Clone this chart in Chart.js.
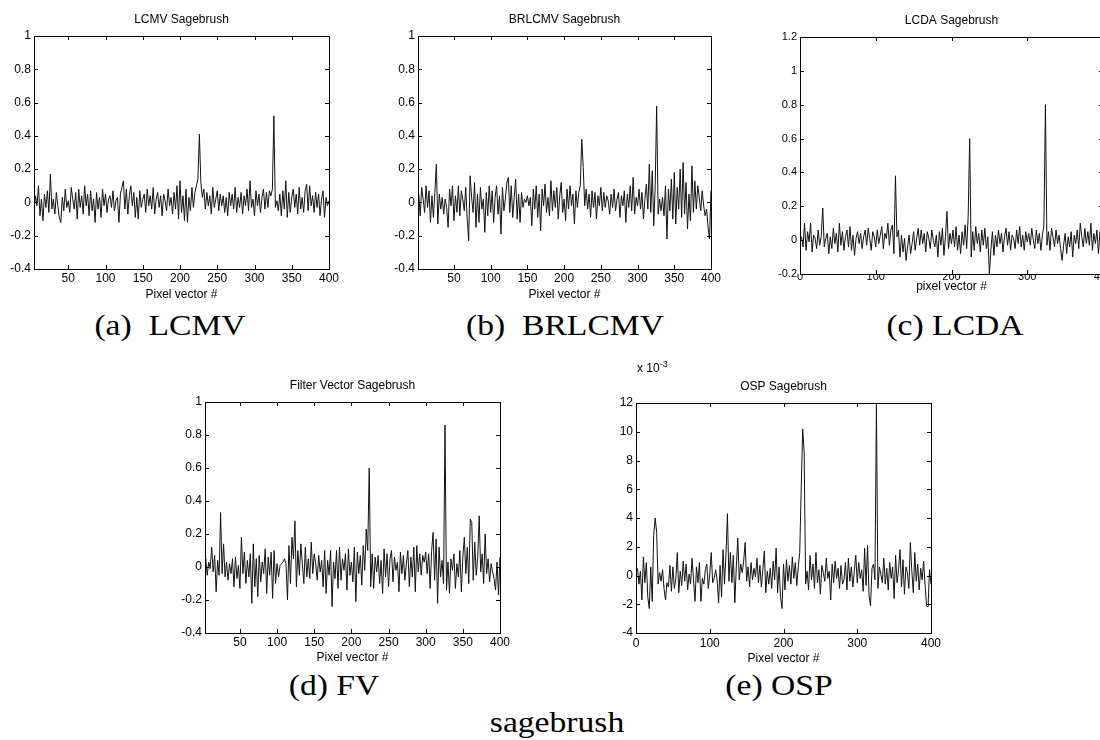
<!DOCTYPE html>
<html>
<head>
<meta charset="utf-8">
<script src="https://cdn.jsdelivr.net/npm/chart.js@4"></script>
<style>
  body { margin: 0; width: 1100px; height: 740px; overflow: hidden; background: #fff; position: relative; }
  canvas { position: absolute; }
  .cap { position: absolute; font-family: "Liberation Serif", serif; font-size: 30px; color: #000; white-space: pre; transform: translate(-50%, -50%) scaleX(1.12); }
  .mult { position: absolute; font-family: "Liberation Sans", sans-serif; font-size: 12px; color: #000; }
  .mult sup { font-size: 9px; }
</style>
</head>
<body>
<canvas id="cA"></canvas>
<canvas id="cB"></canvas>
<canvas id="cC"></canvas>
<canvas id="cD"></canvas>
<canvas id="cE"></canvas>

<div class="cap" style="left:170px;top:325px">(a)  LCMV</div>
<div class="cap" style="left:565px;top:325px">(b)  BRLCMV</div>
<div class="cap" style="left:955px;top:325px">(c) LCDA</div>
<div class="cap" style="left:334px;top:685px">(d) FV</div>
<div class="cap" style="left:779px;top:685px">(e) OSP</div>
<div class="cap" style="left:557px;top:722px">sagebrush</div>
<div class="mult" style="left:637px;top:359px">x 10<sup>-3</sup></div>

<script>
// filter outputs, one value per second pixel vector (2, 4, ... 400)
const lcmv = [
  0.03, -0.05, 0.04, -0.02, 0.1, -0.08, 0.02, -0.11, 0.05, -0.03,
  0.07, -0.06, 0.17, -0.04, 0.02, -0.07, 0.06, -0.02, -0.09, -0.12,
  0.03, -0.05, 0.08, -0.03, 0.01, -0.06, 0.09, 0.02, -0.04, 0.06,
  -0.1, 0.08, -0.03, 0.04, -0.07, 0.1, -0.02, 0.05, -0.08, 0.07,
  -0.05, 0.02, -0.12, 0.06, -0.04, 0.03, -0.09, 0.08, -0.02, 0.05,
  -0.06, 0.02, 0.04, -0.03, 0.07, -0.05, 0.01, 0.03, -0.12, 0.05,
  0.09, 0.13, -0.04, 0.08, -0.07, 0.04, 0.1, -0.02, 0.06, -0.09,
  0.03, -0.1, 0.07, -0.03, 0.02, 0.05, -0.06, 0.08, -0.02, 0.04,
  -0.04, 0.09, -0.07, 0.02, 0.06, -0.03, 0.04, -0.08, 0.05, 0.01,
  -0.05, 0.08, -0.02, 0.03, -0.07, 0.06, -0.04, 0.1, -0.1, 0.13,
  -0.06, 0.04, -0.11, 0.08, -0.12, 0.03, -0.05, 0.09, -0.03, 0.06,
  0.1, 0.14, 0.41, 0.12, 0.03, 0.08, -0.04, 0.06, -0.02, 0.04,
  -0.07, 0.09, -0.03, 0.02, 0.07, -0.05, 0.05, -0.02, 0.04, -0.06,
  0.03, -0.08, 0.06, -0.02, 0.05, -0.04, 0.09, -0.06, 0.03, -0.03,
  0.06, -0.07, 0.04, -0.02, 0.08, -0.05, 0.13, -0.03, 0.02, -0.08,
  0.07, -0.02, 0.05, -0.06, 0.03, 0.08, -0.04, 0.06, -0.03, 0.07,
  0.04, 0.08, 0.52, -0.03, 0.01, -0.05, 0.05, -0.08, 0.07, -0.04,
  0.13, -0.09, 0.06, -0.06, 0.03, 0.08, -0.03, 0.05, -0.07, 0.09,
  -0.04, 0.03, -0.06, 0.07, 0.11, -0.05, 0.1, -0.02, 0.04, -0.06,
  0.06, -0.03, 0.05, -0.08, 0.02, 0.07, -0.09, 0.03, -0.02, 0.01
];
const brlcmv = [
  0.05, -0.08, 0.09, 0.02, -0.06, 0.1, -0.03, 0.07, -0.12, 0.04,
  -0.09, 0.06, 0.23, -0.13, 0.05, -0.04, 0.03, -0.07, 0.02, -0.03,
  -0.15, 0.08, -0.02, 0.1, -0.11, 0.04, -0.06, 0.1, -0.08, 0.07,
  0.02, -0.05, 0.09, -0.1, -0.23, 0.16, 0.03, -0.06, 0.12, -0.15,
  0.05, -0.12, 0.09, -0.04, 0.02, -0.18, 0.06, -0.08, 0.1, -0.06,
  0.07, -0.12, 0.03, 0.1, -0.07, 0.04, -0.19, 0.09, -0.05, 0.02,
  0.12, 0.15, -0.06, 0.1, -0.09, 0.03, 0.14, -0.1, 0.05, -0.12,
  0.06, -0.03, 0.02, 0.0, 0.04, -0.02, 0.03, -0.14, 0.08, -0.04,
  0.1, -0.09, 0.05, -0.17, 0.08, -0.02, 0.11, -0.06, 0.03, -0.08,
  0.13, -0.05, 0.07, -0.03, 0.09, -0.1, 0.04, 0.12, -0.06, 0.02,
  -0.11, 0.08, -0.04, 0.1, -0.02, 0.05, -0.13, 0.07, -0.03, 0.06,
  0.1, 0.38, 0.21, -0.02, 0.08, -0.04, 0.05, -0.09, 0.07, -0.03,
  0.06, -0.1, 0.04, -0.02, 0.09, -0.05, 0.06, -0.03, 0.04, 0.01,
  -0.07, 0.05, -0.03, 0.08, -0.05, 0.02, 0.06, -0.09, 0.04, -0.02,
  0.07, -0.12, 0.05, -0.03, 0.1, -0.05, 0.15, -0.07, 0.03, -0.02,
  0.08, -0.04, 0.06, -0.1, 0.02, 0.11, -0.04, 0.23, -0.06, 0.19,
  -0.14, 0.1, 0.58, -0.07, 0.02, -0.05, 0.03, -0.08, 0.1, -0.22,
  0.08, -0.05, 0.14, -0.1, 0.18, -0.13, 0.09, -0.04, 0.2, -0.09,
  0.24, -0.07, 0.12, -0.16, 0.05, -0.11, 0.22, -0.06, 0.13, -0.04,
  0.1, 0.03, -0.05, 0.07, -0.02, -0.08, -0.04, -0.15, -0.22, 0.07
];
const lcda = [
  0.02, -0.04, 0.1, -0.06, 0.05, -0.01, 0.1, -0.07, 0.03, 0.01,
  -0.05, 0.06, -0.03, 0.02, 0.19, -0.04, 0.01, 0.04, -0.08, 0.02,
  -0.05, 0.07, -0.02, 0.04, -0.07, 0.1, -0.03, 0.05, -0.06, 0.02,
  0.06, -0.04, 0.08, -0.06, 0.03, -0.09, 0.01, 0.05, -0.02, 0.04,
  -0.05, 0.02, 0.06, -0.03, 0.07, 0.01, -0.06, 0.05, 0.02, -0.04,
  0.06, -0.02, 0.03, 0.08, -0.05, 0.04, 0.01, 0.1, -0.03, 0.06,
  0.09, -0.08, 0.38, 0.02, 0.06, -0.1, 0.03, -0.07, 0.01, -0.12,
  -0.04, 0.03, -0.08, -0.02, 0.05, -0.06, 0.01, 0.07, -0.03, 0.06,
  -0.02, 0.04, -0.07, 0.05, 0.01, -0.05, 0.06, 0.0, -0.04, 0.03,
  -0.1, 0.05, -0.03, 0.07, -0.09, 0.02, 0.17, -0.05, 0.04, -0.02,
  0.06, -0.04, 0.08, -0.06, 0.03, -0.08, 0.05, -0.03, 0.09, -0.05,
  0.14, 0.6, -0.1, 0.05, -0.06, 0.08, -0.02, 0.04, -0.07, 0.06,
  -0.03, 0.07, -0.05, 0.02, -0.2, -0.06, 0.05, -0.09, 0.03, -0.04,
  0.06, -0.02, 0.04, -0.07, 0.02, 0.07, -0.03, 0.05, -0.06, 0.03,
  0.01, -0.05, 0.06, -0.02, 0.08, -0.04, 0.03, -0.06, 0.05, -0.01,
  0.04, -0.03, 0.07, 0.0, -0.05, 0.06, -0.02, 0.04, -0.06, 0.03,
  0.09, 0.8, -0.03, 0.05, -0.06, 0.07, 0.02, -0.04, 0.06, -0.02,
  0.03, -0.05, -0.12, -0.03, 0.04, -0.08, 0.02, -0.04, 0.05, -0.1,
  0.03, -0.02, 0.06, -0.05, 0.1, 0.02, -0.04, 0.07, -0.02, 0.05,
  -0.03, 0.1, -0.06, 0.04, -0.02, 0.06, -0.08, 0.05, -0.04, 0.02
];
const fv = [
  -0.02, 0.05, -0.05, 0.03, -0.01, 0.12, -0.03, 0.07, -0.15, 0.04,
  -0.05, 0.33, -0.04, 0.14, -0.06, 0.03, -0.08, 0.02, -0.04, 0.05,
  -0.12, 0.06, -0.07, 0.01, -0.13, 0.18, -0.04, 0.09, -0.1, 0.04,
  -0.06, 0.08, -0.22, 0.14, -0.12, 0.05, -0.18, 0.07, -0.09, 0.03,
  -0.04, 0.11, -0.16, 0.06, -0.05, 0.09, -0.19, 0.1, -0.1, 0.02,
  -0.06, 0.01, 0.02, 0.03, 0.05, 0.02, -0.2, 0.13, -0.1, 0.18,
  0.05, 0.28, -0.12, 0.1, -0.05, 0.14, 0.02, -0.1, 0.12, -0.06,
  0.05, -0.07, 0.15, -0.04, 0.08, 0.02, -0.08, 0.07, -0.03, 0.04,
  -0.12, 0.1, -0.16, 0.04, -0.05, 0.1, -0.24, 0.03, -0.07, 0.1,
  -0.13, 0.12, -0.08, 0.05, -0.02, 0.08, -0.14, 0.11, -0.05, 0.03,
  -0.09, 0.12, -0.21, 0.09, -0.04, 0.07, -0.11, 0.13, -0.02, 0.23,
  0.1, 0.6, -0.12, 0.08, -0.13, 0.06, -0.03, 0.07, -0.1, 0.04,
  -0.16, 0.11, -0.06, 0.08, -0.12, 0.05, 0.1, -0.09, 0.06, -0.02,
  0.03, -0.15, 0.09, -0.04, 0.07, -0.08, 0.02, 0.1, -0.12, 0.06,
  -0.06, 0.12, -0.15, 0.13, -0.03, 0.08, -0.05, 0.07, 0.03, 0.09,
  -0.04, 0.08, -0.13, 0.1, 0.21, -0.08, 0.17, -0.22, 0.12, -0.06,
  0.04, -0.1, 0.86, -0.14, 0.03, -0.16, 0.05, -0.02, 0.08, -0.13,
  0.02, -0.06, 0.1, -0.15, 0.06, 0.18, -0.04, 0.12, -0.1, 0.29,
  0.27, -0.08, 0.15, -0.05, 0.06, 0.31, -0.03, 0.08, -0.1, 0.2,
  -0.04, 0.05, -0.09, 0.02, -0.03, -0.07, -0.14, 0.03, -0.17, 0.06
];
// OSP in units of 1e-3
const osp = [
  0.5, -0.6, 0.3, -1.7, 1.3, -0.5, 0.9, -1.5, -2.3, 0.6,
  -1.8, 2.8, 4.0, 3.0, -0.6, 0.2, -0.4, 0.4, -0.9, -1.7,
  -0.5, -0.8, 0.7, -1.1, 0.6, -0.9, -0.2, 1.6, -1.2, 0.3,
  -0.7, 1.0, -0.4, 0.8, -1.0, 0.1, -0.6, 1.2, -0.3, -1.8,
  0.6, -0.5, 0.9, -1.8, -0.2, -0.6, 0.4, 0.8, -0.9, 0.1,
  1.6, -0.5, -0.2, 0.4, -0.3, -1.9, 0.7, -1.5, 1.8, -0.6,
  1.5, 4.3, -0.4, 1.6, -0.5, 1.4, -1.9, 0.6, 2.6, -0.3,
  0.8, 0.2, 1.0, 2.3, -0.4, 0.6, -0.8, 0.9, -0.3, 0.5,
  -0.1, 1.2, -0.5, 0.7, -0.8, 0.4, 1.7, -1.2, 0.3, -0.6,
  0.5, -0.9, 1.0, -0.3, 1.9, -1.2, 0.6, -1.5, -2.3, 0.8,
  -1.0, 1.1, -0.4, 0.7, -0.6, 1.3, -0.2, 0.9, -0.7, 0.6,
  1.6, 6.0, 10.2, 8.6, -0.6, 0.3, -1.0, 1.4, -0.3, 0.8,
  -0.9, 1.6, -0.5, 0.4, -1.3, 0.7, 0.2, -0.4, 1.2, -0.2,
  0.3, -1.7, 0.8, -0.5, 1.0, -0.2, 0.5, -0.9, 0.7, -0.6,
  -0.3, 0.9, -1.0, 1.2, -0.4, 0.6, -0.8, 0.3, 1.4, -0.5,
  0.9, -0.2, 0.4, -1.1, 1.9, -0.7, 2.1, -1.4, -2.1, 0.5,
  0.8, -0.3, 11.9, -0.9, 0.6, 0.1, -0.5, 1.2, -0.6, 0.5,
  -1.0, 0.9, -0.2, 0.6, -1.6, 1.4, -0.5, 0.4, 1.8, -0.8,
  1.1, -1.3, 0.6, 0.2, -0.9, 2.3, 0.3, -1.2, 1.6, -0.4,
  0.8, -1.0, 0.5, -0.3, 1.0, -0.7, -2.1, -2.2, 0.4, -0.6
];

// tick labels
const xTicks50 = [50, 100, 150, 200, 250, 300, 350, 400];
const xTicks100 = [0, 100, 200, 300, 400];
const yTicksA = [-0.4, -0.2, 0, 0.2, 0.4, 0.6, 0.8, 1];
const yTicksC = [-0.2, 0, 0.2, 0.4, 0.6, 0.8, 1, 1.2];
const yTicksE = [-4, -2, 0, 2, 4, 6, 8, 10, 12];

const pixelNo = lcmv.map((_, i) => 2 * i + 2); // sample positions

const yW = 44, titleH = 30, padR = 16;
const sans = 'Liberation Sans';

// box frame + inward ticks like the matlab axes
const framePlugin = {
  id: 'frame',
  afterDatasetsDraw(chart) {
    const { ctx, chartArea: a, scales: { x, y } } = chart;
    ctx.save();
    ctx.strokeStyle = '#000';
    ctx.lineWidth = 1;
    ctx.strokeRect(Math.round(a.left) + 0.5, Math.round(a.top) + 0.5, Math.round(a.width), Math.round(a.height));
    ctx.beginPath();
    x.ticks.forEach(t => {
      const px = Math.round(x.getPixelForValue(t.value)) + 0.5;
      ctx.moveTo(px, a.bottom); ctx.lineTo(px, a.bottom - 4);
      ctx.moveTo(px, a.top); ctx.lineTo(px, a.top + 4);
    });
    y.ticks.forEach(t => {
      const py = Math.round(y.getPixelForValue(t.value)) + 0.5;
      ctx.moveTo(a.left, py); ctx.lineTo(a.left + 4, py);
      ctx.moveTo(a.right, py); ctx.lineTo(a.right - 4, py);
    });
    ctx.stroke();
    ctx.restore();
  }
};

function makePanel(p) {
  const cv = document.getElementById(p.id);
  cv.width = (p.right - p.left) + yW + padR;
  cv.height = titleH + (p.bottom - p.top) + p.xH;
  cv.style.left = (p.left - yW) + 'px';
  cv.style.top = (p.top - titleH) + 'px';

  new Chart(cv, {
    type: 'line',
    data: {
      datasets: [{
        data: p.values.map((v, i) => ({ x: pixelNo[i], y: v })),
        borderColor: '#111',
        borderWidth: 1,
        pointRadius: 0,
        tension: 0
      }]
    },
    options: {
      responsive: false,
      animation: false,
      devicePixelRatio: 1,
      layout: { padding: { left: 0, right: padR, top: 0, bottom: 0 } },
      plugins: {
        legend: { display: false },
        tooltip: { enabled: false },
        title: {
          display: true,
          text: p.title,
          fullSize: false,
          color: '#000',
          font: { family: sans, size: 12, weight: 'normal' },
          padding: { top: 6.8, bottom: 8.8 }
        }
      },
      scales: {
        x: {
          type: 'linear',
          min: p.xMin,
          max: p.xMax,
          grid: { display: false, drawTicks: false },
          border: { display: false },
          afterBuildTicks: s => { s.ticks = p.xTicks.map(v => ({ value: v })); },
          afterFit: s => { s.height = p.xH; },
          ticks: { color: '#000', font: { family: sans, size: p.tickSize }, padding: p.xPad, maxRotation: 0, autoSkip: false },
          title: {
            display: true,
            text: p.xTitle,
            color: '#000',
            font: { family: sans, size: 12 },
            padding: { top: 0, bottom: p.xtPad }
          }
        },
        y: {
          min: p.yTicks[0],
          max: p.yTicks[p.yTicks.length - 1],
          grid: { display: false, drawTicks: false },
          border: { display: false },
          afterBuildTicks: s => { s.ticks = p.yTicks.map(v => ({ value: v })); },
          afterFit: s => { s.width = yW; },
          ticks: { color: '#000', font: { family: sans, size: p.tickSize }, padding: 3, callback: v => String(v) }
        }
      }
    },
    plugins: [framePlugin]
  });
}

makePanel({ id: 'cA', title: 'LCMV Sagebrush', xTitle: 'Pixel vector #', values: lcmv,
  left: 34, right: 329, top: 36, bottom: 269, xH: 34, xPad: 2, xtPad: 1, tickSize: 12,
  xMin: 4, xMax: 400, xTicks: xTicks50, yTicks: yTicksA });
makePanel({ id: 'cB', title: 'BRLCMV Sagebrush', xTitle: 'Pixel vector #', values: brlcmv,
  left: 418, right: 711, top: 36, bottom: 269, xH: 34, xPad: 2, xtPad: 1, tickSize: 12,
  xMin: 1, xMax: 400, xTicks: xTicks50, yTicks: yTicksA });
makePanel({ id: 'cC', title: 'LCDA Sagebrush', xTitle: 'pixel vector #', values: lcda,
  left: 800, right: 1103, top: 37, bottom: 274, xH: 20, xPad: -4, xtPad: 0, tickSize: 11,
  xMin: 0, xMax: 400, xTicks: xTicks100, yTicks: yTicksC });
makePanel({ id: 'cD', title: 'Filter Vector Sagebrush', xTitle: 'Pixel vector #', values: fv,
  left: 205, right: 500, top: 402, bottom: 633, xH: 33, xPad: 2, xtPad: 1, tickSize: 12,
  xMin: 3, xMax: 400, xTicks: xTicks50, yTicks: yTicksA });
makePanel({ id: 'cE', title: 'OSP Sagebrush', xTitle: 'Pixel vector #', values: osp,
  left: 636, right: 931, top: 403, bottom: 633, xH: 34, xPad: 3, xtPad: 1, tickSize: 12,
  xMin: 0, xMax: 400, xTicks: xTicks100, yTicks: yTicksE });
</script>
</body>
</html>
